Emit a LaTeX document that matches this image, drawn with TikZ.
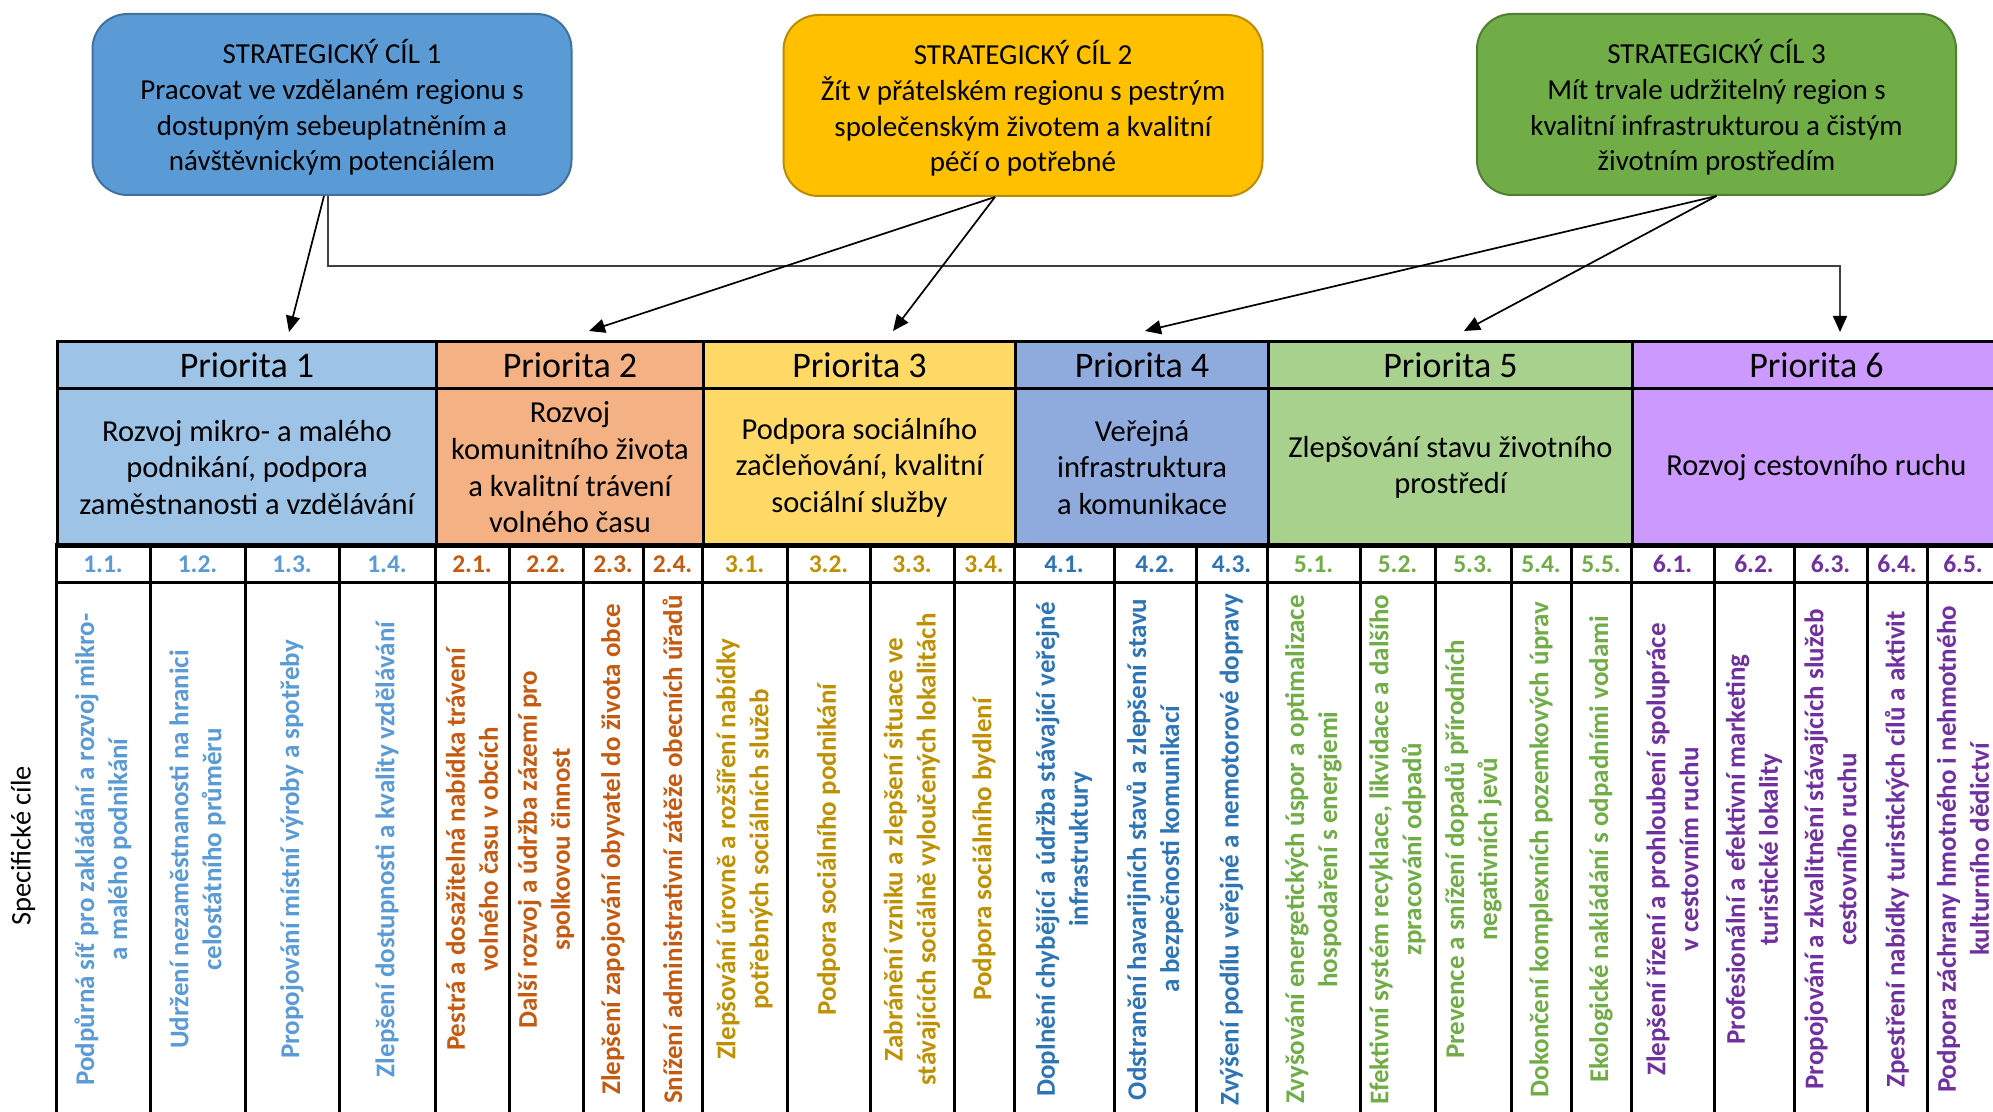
\documentclass[tikz,border=0pt]{standalone}
\usepackage{fontspec}
\setmainfont{Carlito}
\usetikzlibrary{arrows.meta}
\definecolor{g1fill}{HTML}{5B9BD5}\definecolor{g1line}{HTML}{41719C}
\definecolor{g2fill}{HTML}{FFC000}\definecolor{g2line}{HTML}{BC8C00}
\definecolor{g3fill}{HTML}{70AD47}\definecolor{g3line}{HTML}{507E32}
\definecolor{f1}{HTML}{9DC3E6}\definecolor{f2}{HTML}{F4B183}
\definecolor{f3}{HTML}{FFD966}\definecolor{f4}{HTML}{8FAADC}
\definecolor{f5}{HTML}{A9D18E}\definecolor{f6}{HTML}{CC99FF}
\definecolor{c1}{HTML}{5B9BD5}\definecolor{c2}{HTML}{C55A11}
\definecolor{c3}{HTML}{BF9000}\definecolor{c4}{HTML}{2E75B6}
\definecolor{c5}{HTML}{70AD47}\definecolor{c6}{HTML}{7030A0}
\definecolor{elbowgray}{HTML}{404040}
\newcommand\sccol[6]{%
  \node[numcell, text=#6, minimum width={(#3-#2)*0.5pt}] (n#1) at ({(#2+#3)/2},564) {#4};
  \node[txtcell, minimum width={(#3-#2)*0.5pt}] (c#1) at ({(#2+#3)/2},849.5) {};
  \node[rottext, text=#6] (s#1) at (c#1.center) {#5};
}
\begin{document}
\begin{tikzpicture}[x=0.5pt,y=-0.5pt,
  goalbox/.style={rounded corners=17.5pt, line width=1pt, minimum width=239.5pt,
    minimum height=90.5pt, inner sep=0pt},
  goaltext/.style={align=center, inner sep=0pt,
    font=\fontsize{14.5}{17.8}\selectfont},
  phead/.style={draw=black, line width=1.5pt, minimum height=23.5pt, inner sep=0pt,
    font=\fontsize{18}{21}\selectfont, anchor=north west},
  pdesc/.style={draw=black, line width=1.5pt, minimum height=79pt, inner sep=0pt,
    align=center, font=\fontsize{15.25}{18.3}\selectfont, anchor=north west},
  numcell/.style={draw=black, line width=1.5pt, minimum height=19pt, inner sep=0pt,
    font=\bfseries\fontsize{12.75}{15}\selectfont},
  txtcell/.style={draw=black, line width=1.5pt, minimum height=266.5pt, inner sep=0pt},
  rottext/.style={rotate=90, align=center, inner sep=0pt,
    font=\bfseries\fontsize{13.5}{16.5}\selectfont},
  arr/.style={line width=0.85pt, -{Triangle[length=8pt,width=7pt,color=black]}}
]
\useasboundingbox (0,0) rectangle (1993,1112);
\fill[white] (0,0) rectangle (1993,1112);
\clip (0,0) rectangle (1993,1112);

% strategic goals
\node[goalbox, fill=g1fill, draw=g1line] (b1) at (332,104.5) {};
\node[goaltext] (b1t) at ([yshift=-1.5pt]b1.center)
  {STRATEGICKÝ CÍL 1\\Pracovat ve vzdělaném regionu s\\dostupným sebeuplatněním a\\návštěvnickým potenciálem};
\node[goalbox, fill=g2fill, draw=g2line] (b2) at (1023,105.5) {};
\node[goaltext] (b2t) at ([yshift=-1.5pt]b2.center)
  {STRATEGICKÝ CÍL 2\\Žít v přátelském regionu s pestrým\\společenským životem a kvalitní\\péčí o potřebné};
\node[goalbox, fill=g3fill, draw=g3line] (b3) at (1716.5,104.5) {};
\node[goaltext] (b3t) at ([yshift=-1.5pt]b3.center)
  {STRATEGICKÝ CÍL 3\\Mít trvale udržitelný region s\\kvalitní infrastrukturou a čistým\\životním prostředím};

% priority headers
\node[phead, fill=f1, minimum width=189.5pt] (p1) at (56,340) {Priorita 1};
\node[phead, fill=f2, minimum width=133.5pt] (p2) at (435,340) {Priorita 2};
\node[phead, fill=f3, minimum width=156pt] (p3) at (702,340) {Priorita 3};
\node[phead, fill=f4, minimum width=126.5pt] (p4) at (1014,340) {Priorita 4};
\node[phead, fill=f5, minimum width=182pt] (p5) at (1267,340) {Priorita 5};
\node[phead, fill=f6, minimum width=184pt] (p6) at (1631,340) {Priorita 6};

% priority descriptions
\node[pdesc, fill=f1, minimum width=189.5pt] (d1) at (56,387)
  {Rozvoj mikro- a malého\\podnikání, podpora\\zaměstnanosti a vzdělávání};
\node[pdesc, fill=f2, minimum width=133.5pt] (d2) at (435,387)
  {Rozvoj\\komunitního života\\a kvalitní trávení\\volného času};
\node[pdesc, fill=f3, minimum width=156pt] (d3) at (702,387)
  {Podpora sociálního\\začleňování, kvalitní\\sociální služby};
\node[pdesc, fill=f4, minimum width=126.5pt] (d4) at (1014,387)
  {Veřejná\\infrastruktura\\a komunikace};
\node[pdesc, fill=f5, minimum width=182pt] (d5) at (1267,387)
  {Zlepšování stavu životního\\prostředí};
\node[pdesc, fill=f6, minimum width=184pt] (d6) at (1631,387)
  {Rozvoj cestovního ruchu};

% specific goals
\sccol{11}{56}{150}{1.1.}{Podpůrná síť pro zakládání a rozvoj mikro-\\a malého podnikání}{c1}
\sccol{12}{150}{245}{1.2.}{Udržení nezaměstnanosti na hranici\\celostátního průměru}{c1}
\sccol{13}{245}{339}{1.3.}{Propojování místní výroby a spotřeby}{c1}
\sccol{14}{339}{435}{1.4.}{Zlepšení dostupnosti a kvality vzdělávání}{c1}
\sccol{21}{435}{509}{2.1.}{Pestrá a dosažitelná nabídka trávení\\volného času v obcích}{c2}
\sccol{22}{509}{583}{2.2.}{Další rozvoj a údržba zázemí pro\\spolkovou činnost}{c2}
\sccol{23}{583}{643}{2.3.}{Zlepšení zapojování obyvatel do života obce}{c2}
\sccol{24}{643}{702}{2.4.}{Snížení administrativní zátěže obecních úřadů}{c2}
\sccol{31}{702}{787}{3.1.}{Zlepšování úrovně a rozšíření nabídky\\potřebných sociálních služeb}{c3}
\sccol{32}{787}{870}{3.2.}{Podpora sociálního podnikání}{c3}
\sccol{33}{870}{954}{3.3.}{Zabránění vzniku a zlepšení situace ve\\stávajících sociálně vyloučených lokalitách}{c3}
\sccol{34}{954}{1014}{3.4.}{Podpora sociálního bydlení}{c3}
\sccol{41}{1014}{1114}{4.1.}{Doplnění chybějící a údržba stávající veřejné\\infrastruktury}{c4}
\sccol{42}{1114}{1196}{4.2.}{Odstranění havarijních stavů a zlepšení stavu\\a bezpečnosti komunikací}{c4}
\sccol{43}{1196}{1267}{4.3.}{Zvýšení podílu veřejné a nemotorové dopravy}{c4}
\sccol{51}{1267}{1360}{5.1.}{Zvyšování energetických úspor a optimalizace\\hospodaření s energiemi}{c5}
\sccol{52}{1360}{1435}{5.2.}{Efektivní systém recyklace, likvidace a dalšího\\zpracování odpadů}{c5}
\sccol{53}{1435}{1511}{5.3.}{Prevence a snížení dopadů přírodních\\negativních jevů}{c5}
\sccol{54}{1511}{1571}{5.4.}{Dokončení komplexních pozemkových úprav}{c5}
\sccol{55}{1571}{1631}{5.5.}{Ekologické nakládání s odpadními vodami}{c5}
\sccol{61}{1631}{1714}{6.1.}{Zlepšení řízení a prohloubení spolupráce\\v cestovním ruchu}{c6}
\sccol{62}{1714}{1794}{6.2.}{Profesionální a efektivní marketing\\turistické lokality}{c6}
\sccol{63}{1794}{1867}{6.3.}{Propojování a zkvalitnění stávajících služeb\\cestovního ruchu}{c6}
\sccol{64}{1867}{1927}{6.4.}{Zpestření nabídky turistických cílů a aktivit}{c6}
\sccol{65}{1927}{1999}{6.5.}{Podpora záchrany hmotného i nehmotného\\kulturního dědictví}{c6}

\node[rotate=90, inner sep=0pt, font=\fontsize{14.25}{17}\selectfont] (sc) at (23,846) {Specifické cíle};

% arrow targets
\coordinate (t1) at (289,332);
\coordinate (t2) at (589,331);
\coordinate (t3) at (893,331);
\coordinate (t4) at (1145,331);
\coordinate (t5) at (1464,331);
\coordinate (t6) at (1840,332);

% connectors
\draw[arr] ([xshift=-4pt]b1.south) -- (t1);
\draw[arr, draw=elbowgray] ([xshift=-2pt]b1.south) -- ++(0,70) -| (t6);
\draw[arr] ([xshift=-14pt]b2.south) -- (t2);
\draw[arr] ([xshift=-14pt]b2.south) -- (t3);
\draw[arr] (b3.south) -- (t4);
\draw[arr] (b3.south) -- (t5);
\end{tikzpicture}
\end{document}
